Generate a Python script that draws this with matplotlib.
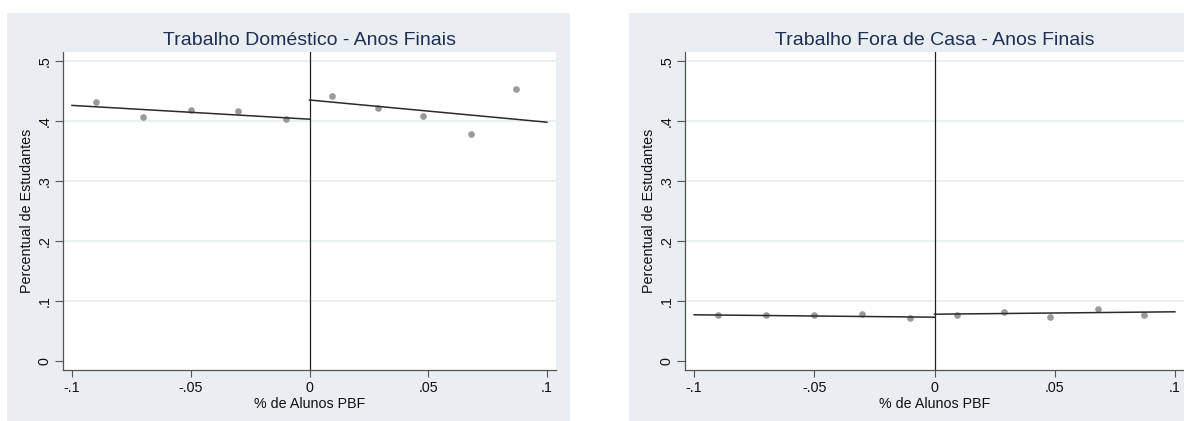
import matplotlib
matplotlib.use("Agg")
import matplotlib.pyplot as plt
from matplotlib.patches import Rectangle

plt.rcParams['font.family'] = ['Liberation Sans', 'DejaVu Sans']

# bin centres (% de alunos PBF, centred on the cutoff)
bins_below = [-0.09, -0.07, -0.05, -0.03, -0.01]
bins_above = [0.0095, 0.029, 0.048, 0.068, 0.087]

# binned means, domestic work
dom_below = [0.432, 0.407, 0.418, 0.417, 0.404]
dom_above = [0.441, 0.421, 0.409, 0.379, 0.453]
# linear fit endpoints (-0.1 -> 0 and 0 -> 0.1)
dom_fit_below = [0.426, 0.403]
dom_fit_above = [0.435, 0.398]

# binned means, work outside the home
fora_below = [0.077, 0.076, 0.077, 0.079, 0.071]
fora_above = [0.076, 0.082, 0.074, 0.087, 0.077]
fora_fit_below = [0.077, 0.073]
fora_fit_above = [0.078, 0.082]

fit_x_below = [-0.1, 0.0]
fit_x_above = [0.0, 0.1]

xticks = [-0.1, -0.05, 0, 0.05, 0.1]
xtick_labels = ['-.1', '-.05', '0', '.05', '.1']
yticks = [0, 0.1, 0.2, 0.3, 0.4, 0.5]
ytick_labels = ['0', '.1', '.2', '.3', '.4', '.5']

W, H = 1184, 421
BG = '#E8EEF1'
NAVY = '#1E2F52'

fig = plt.figure(figsize=(W / 100, H / 100), dpi=100)
fig.patch.set_facecolor('white')


def px_box(x0, y0, x1, y1):
    # pixel box (top-left origin) -> figure fraction [left, bottom, width, height]
    return [x0 / W, 1 - y1 / H, (x1 - x0) / W, (y1 - y0) / H]


def panel(bg_box, ax_box, title, below, above, fit_below, fit_above):
    l, b, w, h = px_box(*bg_box)
    fig.patches.append(Rectangle((l, b), w, h, transform=fig.transFigure,
                                 facecolor=BG, edgecolor='none', zorder=-5))
    ax = fig.add_axes(px_box(*ax_box))
    ax.set_facecolor('white')
    ax.set_xlim(-0.1038, 0.1038)
    ax.set_ylim(-0.015, 0.515)

    for y in yticks[1:]:
        ax.axhline(y, color='#E6EDF0', lw=1.2, zorder=0)

    ax.axvline(0, color='#222222', lw=0.9, zorder=2)
    ax.plot(bins_below, below, 'o', color='#9A9A9A', ms=4.8, mec='none', zorder=3)
    ax.plot(bins_above, above, 'o', color='#9A9A9A', ms=4.8, mec='none', zorder=3)
    ax.plot(fit_x_below, fit_below, color='#2A2A2A', lw=1.1, zorder=4)
    ax.plot(fit_x_above, fit_above, color='#2A2A2A', lw=1.1, zorder=4)

    for side in ('top', 'right'):
        ax.spines[side].set_visible(False)
    for side in ('left', 'bottom'):
        ax.spines[side].set_color('#555555')
        ax.spines[side].set_linewidth(0.9)

    ax.set_xticks(xticks, xtick_labels)
    ax.set_yticks(yticks, ytick_labels, rotation=90, va='center')
    ax.tick_params(axis='both', direction='out', length=5, width=0.8,
                   color='#555555', labelsize=10.3, labelcolor='#111111', pad=3)
    ax.tick_params(axis='y', length=6, pad=2)

    ax.set_xlabel('% de Alunos PBF', fontsize=10.3, color='#111111', labelpad=1)
    ax.set_ylabel('Percentual de Estudantes', fontsize=10.3, color='#111111',
                  labelpad=3)
    ax.set_title(title, fontsize=14, color=NAVY, pad=5)
    return ax


panel((7, 13, 570, 421), (63, 52, 556, 370), 'Trabalho Doméstico - Anos Finais',
      dom_below, dom_above, dom_fit_below, dom_fit_above)
panel((629, 13, 1200, 421), (685, 52, 1184, 370), 'Trabalho Fora de Casa - Anos Finais',
      fora_below, fora_above, fora_fit_below, fora_fit_above)

fig.savefig('out.png', dpi=100, facecolor=fig.get_facecolor())
